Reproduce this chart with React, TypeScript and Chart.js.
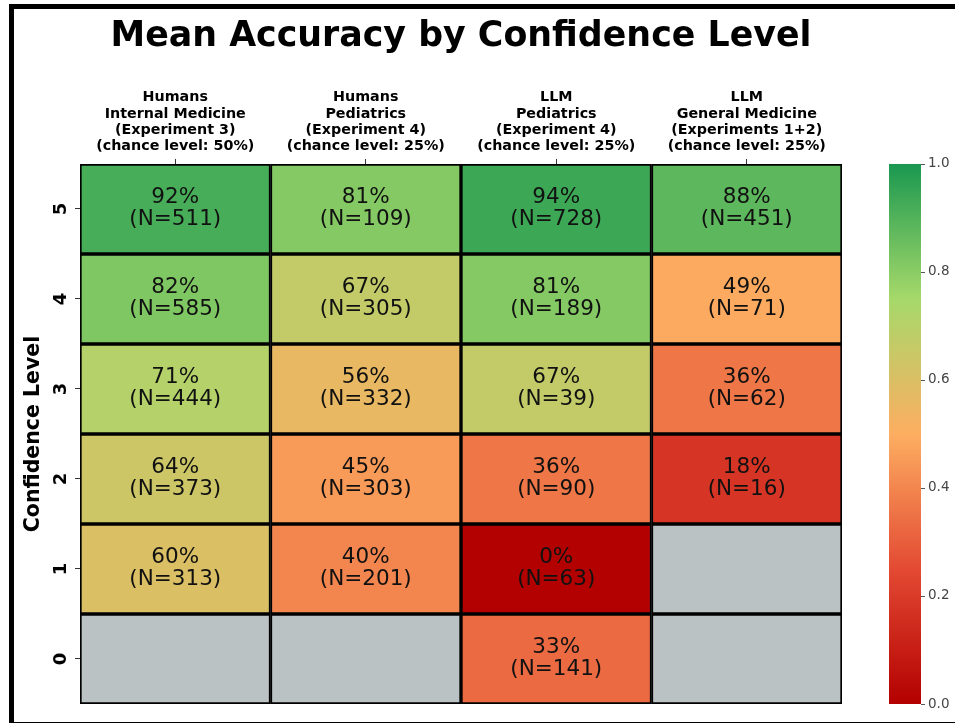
import React, { useEffect, useRef } from 'react';
import { Chart, registerables } from 'chart.js';

Chart.register(...registerables);

const FONT = "'DejaVu Sans', 'Liberation Sans', sans-serif";

const TITLE = 'Mean Accuracy by Confidence Level';
const Y_TITLE = 'Confidence Level';

const COLUMN_LABELS: string[][] = [
  ['Humans', 'Internal Medicine', '(Experiment 3)', '(chance level: 50%)'],
  ['Humans', 'Pediatrics', '(Experiment 4)', '(chance level: 25%)'],
  ['LLM', 'Pediatrics', '(Experiment 4)', '(chance level: 25%)'],
  ['LLM', 'General Medicine', '(Experiments 1+2)', '(chance level: 25%)'],
];

// rows, top to bottom
const CONFIDENCE_LEVELS = [5, 4, 3, 2, 1, 0];

// accuracy (%) per confidence level 5..0, null = no data
const ACC_HUMANS_IM = [92, 82, 71, 64, 60, null];
const ACC_HUMANS_PED = [81, 67, 56, 45, 40, null];
const ACC_LLM_PED = [94, 81, 67, 36, 0, 33];
const ACC_LLM_GM = [88, 49, 36, 18, null, null];

// sample sizes per confidence level 5..0
const N_HUMANS_IM = [511, 585, 444, 373, 313, null];
const N_HUMANS_PED = [109, 305, 332, 303, 201, null];
const N_LLM_PED = [728, 189, 39, 90, 63, 141];
const N_LLM_GM = [451, 71, 62, 16, null, null];

const ACCURACY = [ACC_HUMANS_IM, ACC_HUMANS_PED, ACC_LLM_PED, ACC_LLM_GM];
const COUNTS = [N_HUMANS_IM, N_HUMANS_PED, N_LLM_PED, N_LLM_GM];

const COLORBAR_TICKS = [0, 0.2, 0.4, 0.6, 0.8, 1.0];
const CMAP_STOPS = [0, 0.25, 0.5, 0.75, 1];
const CMAP_COLORS = ['#b30000', '#e34a33', '#fdae61', '#a6d96a', '#1a9850'];
const MISSING_COLOR = '#bac2c3';

function hexToRgb(h: string) {
  const n = parseInt(h.slice(1), 16);
  return [(n >> 16) & 255, (n >> 8) & 255, n & 255];
}

function cmap(v: number) {
  const t = Math.max(0, Math.min(1, v));
  for (let i = 0; i < CMAP_STOPS.length - 1; i++) {
    if (t <= CMAP_STOPS[i + 1]) {
      const f = (t - CMAP_STOPS[i]) / (CMAP_STOPS[i + 1] - CMAP_STOPS[i]);
      const a = hexToRgb(CMAP_COLORS[i]);
      const b = hexToRgb(CMAP_COLORS[i + 1]);
      const c = a.map((x, k) => Math.round(x + (b[k] - x) * f));
      return `rgb(${c[0]},${c[1]},${c[2]})`;
    }
  }
  return CMAP_COLORS[CMAP_COLORS.length - 1];
}

const cellTextPlugin = {
  id: 'cellText',
  afterDatasetsDraw(chart: any) {
    const ctx = chart.ctx;
    ctx.save();
    ctx.fillStyle = '#111';
    ctx.font = `21.5px ${FONT}`;
    ctx.textAlign = 'center';
    ctx.textBaseline = 'middle';
    CONFIDENCE_LEVELS.forEach((_, ri) => {
      const meta = chart.getDatasetMeta(ri);
      ACCURACY.forEach((col, ci) => {
        const acc = col[ri];
        if (acc === null || acc === undefined) return;
        const el = meta.data[ci];
        const cy = (el.y + el.base) / 2;
        ctx.fillText(`${acc}%`, el.x, cy - 12);
        ctx.fillText(`(N=${COUNTS[ci][ri]})`, el.x, cy + 10);
      });
    });
    ctx.restore();
  },
};

const colorbarPlugin = {
  id: 'colorbar',
  afterDraw(chart: any) {
    const ctx = chart.ctx;
    const s = chart.scales.cb;
    const x0 = chart.chartArea.right + 47;
    const w = 32;
    const yTop = s.getPixelForValue(1);
    const yBot = s.getPixelForValue(0);
    const g = ctx.createLinearGradient(0, yBot, 0, yTop);
    CMAP_STOPS.forEach((st, i) => g.addColorStop(st, CMAP_COLORS[i]));
    ctx.save();
    ctx.fillStyle = g;
    ctx.fillRect(x0, yTop, w, yBot - yTop);
    ctx.strokeStyle = '#555';
    ctx.lineWidth = 1;
    COLORBAR_TICKS.forEach((v) => {
      const y = Math.round(s.getPixelForValue(v)) + 0.5;
      ctx.beginPath();
      ctx.moveTo(x0 + w, y);
      ctx.lineTo(x0 + w + 4, y);
      ctx.stroke();
    });
    ctx.restore();
  },
};

export default function App() {
  const ref = useRef<HTMLCanvasElement>(null);

  useEffect(() => {
    if (!ref.current) return;
    const datasets = CONFIDENCE_LEVELS.map((level, ri) => ({
      label: String(level),
      data: ACCURACY.map(() => [level - 0.5, level + 0.5]),
      backgroundColor: ACCURACY.map((col) =>
        col[ri] === null ? MISSING_COLOR : cmap((col[ri] as number) / 100)
      ),
      borderColor: '#000',
      borderWidth: 2,
      borderSkipped: false,
      grouped: false,
      barPercentage: 1,
      categoryPercentage: 1,
      xAxisID: 'x',
      yAxisID: 'y',
    }));

    const chart = new Chart(ref.current, {
      type: 'bar',
      data: { labels: COLUMN_LABELS, datasets: datasets as any },
      plugins: [cellTextPlugin, colorbarPlugin],
      options: {
        responsive: false,
        animation: false,
        layout: { padding: { top: 10, left: 0, right: 0, bottom: 21 } },
        plugins: {
          legend: { display: false },
          tooltip: { enabled: false },
          title: {
            display: true,
            text: TITLE,
            fullSize: false,
            color: '#000',
            font: { family: FONT, size: 34.8, weight: 'bold', lineHeight: 1.2 },
            padding: { top: 6, bottom: 0 },
          },
        },
        scales: {
          x: {
            type: 'category',
            position: 'top',
            offset: true,
            grid: { display: true, drawOnChartArea: false, offset: false, tickLength: 5, color: '#333' },
            border: { display: false },
            ticks: {
              color: '#000',
              font: { family: FONT, size: 14.3, weight: 'bold', lineHeight: 1.15 },
              padding: 4,
              maxRotation: 0,
              minRotation: 0,
              autoSkip: false,
            },
            afterFit: (s: any) => { s.height = 106.2; },
          },
          y: {
            type: 'linear',
            position: 'left',
            min: -0.5,
            max: 5.5,
            afterBuildTicks: (s: any) => { s.ticks = CONFIDENCE_LEVELS.map((v) => ({ value: v })); },
            ticks: {
              callback: (v: any) => String(v),
              minRotation: 90,
              maxRotation: 90,
              crossAlign: 'center',
              padding: 7,
              color: '#000',
              font: { family: FONT, size: 18, weight: 'bold' },
            },
            grid: { drawOnChartArea: false, tickLength: 5, color: '#333' },
            border: { display: false },
            title: {
              display: true,
              text: Y_TITLE,
              color: '#000',
              font: { family: FONT, size: 20.5, weight: 'bold', lineHeight: 1.2 },
              padding: { top: 21, bottom: 0 },
            },
            afterFit: (s: any) => { s.width = 80; },
          },
          cb: {
            type: 'linear',
            position: 'right',
            min: 0,
            max: 1,
            afterBuildTicks: (s: any) => { s.ticks = COLORBAR_TICKS.map((v) => ({ value: v })); },
            ticks: {
              callback: (v: any) => Number(v).toFixed(1),
              padding: 0,
              color: '#444',
              font: { family: FONT, size: 13.5 },
            },
            grid: { display: false, drawTicks: true, tickLength: 86 },
            border: { display: false },
            afterFit: (s: any) => { s.width = 113; },
          },
        },
      } as any,
    });
    return () => chart.destroy();
  }, []);

  return (
    <div style={{ position: 'fixed', left: 0, top: 0, width: 955, height: 725, background: '#fff', overflow: 'hidden' }}>
      <canvas ref={ref} width={955} height={725} style={{ position: 'absolute', left: 0, top: 0, width: 955, height: 725 }} />
      <div
        style={{
          position: 'absolute',
          left: 9,
          top: 4,
          width: 960,
          height: 713,
          borderTop: '5px solid #000',
          borderLeft: '5px solid #000',
          borderBottom: '1.5px solid #000',
          pointerEvents: 'none',
        }}
      />
    </div>
  );
}
